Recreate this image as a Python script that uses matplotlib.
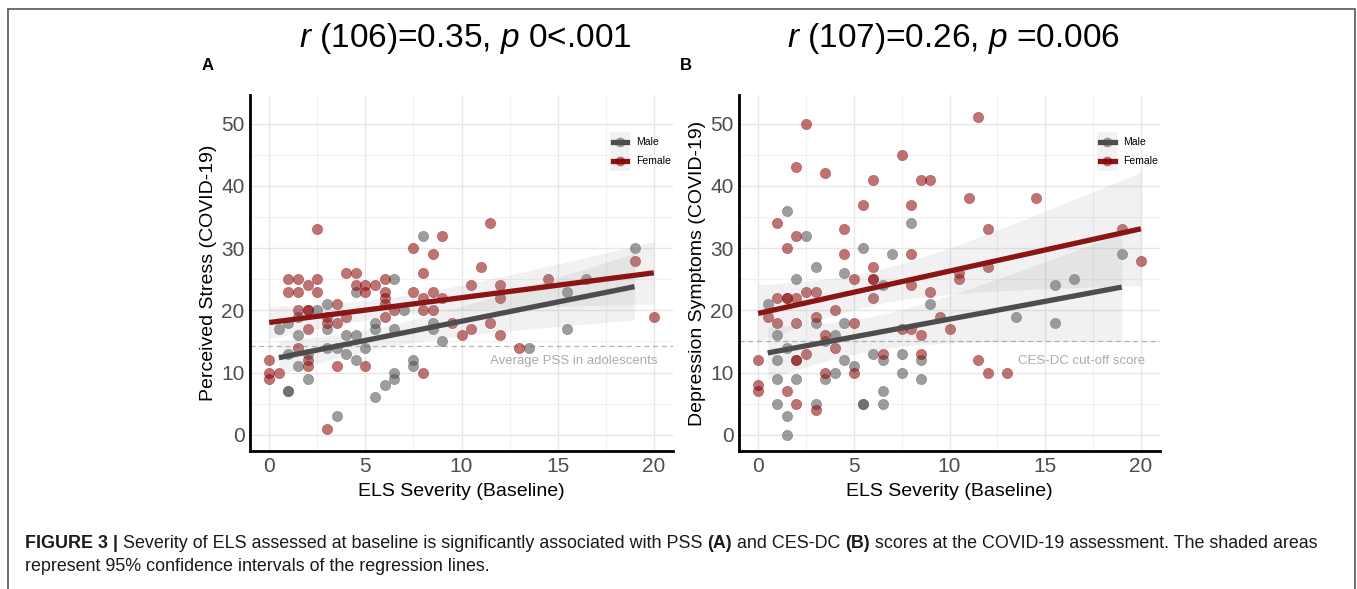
import numpy as np
import matplotlib
matplotlib.use("Agg")
import matplotlib.pyplot as plt
from matplotlib.patches import Rectangle
from matplotlib.lines import Line2D

plt.rcParams['font.family'] = ['Liberation Sans', 'DejaVu Sans']
plt.rcParams['mathtext.fontset'] = 'custom'
plt.rcParams['mathtext.rm'] = 'Liberation Sans'
plt.rcParams['mathtext.it'] = 'Liberation Sans:italic'

# ---------------- data ----------------
a_female_x = [2.5, 11.5, 9, 7.5, 8.5, 11, 19, 8, 4, 4.5, 1, 1.5, 2.5, 6, 14.5, 2, 4.5, 5, 5.5, 10.5, 12,
              1, 1.5, 2.5, 5, 6, 7.5, 8.5, 6, 8, 9, 12, 6, 3.5, 1.5, 2, 2, 3, 8, 8.5, 6.5, 6, 4, 3, 3.5,
              9.5, 11.5, 2, 10.5, 10, 12, 1.5, 2, 2, 13, 0, 0, 0, 0.5, 3.5, 5, 8, 3, 20]
a_female_y = [33, 34, 32, 30, 29, 27, 28, 26, 26, 26, 25, 25, 25, 25, 25, 24, 24, 24, 24, 24, 24,
              23, 23, 23, 23, 23, 23, 23, 22, 22, 22, 22, 21, 21, 20, 20, 20, 19, 20, 20, 20, 19, 19, 18, 18,
              18, 18, 17, 17, 16, 16, 14, 12, 11, 14, 12, 10, 9, 10, 11, 11, 10, 1, 19]
a_male_x = [8, 19, 6.5, 4.5, 16.5, 15.5, 3, 2.5, 7, 1.5, 1, 0.5, 3, 5.5, 5.5, 6.5, 8.5, 8.5, 1.5, 4, 4.5,
            9, 15.5, 3, 3.5, 5, 13.5, 1, 2, 4, 4.5, 7.5, 7.5, 1.5, 2, 6.5, 6.5, 6, 5.5, 1, 1, 3.5]
a_male_y = [32, 30, 25, 23, 25, 23, 21, 20, 20, 19, 18, 17, 17, 18, 17, 17, 18, 17, 16, 16, 16,
            15, 17, 14, 14, 14, 14, 13, 13, 13, 12, 12, 11, 11, 9, 10, 9, 8, 6, 7, 7, 3]

b_female_x = [2.5, 11.5, 7.5, 2, 3.5, 6, 8.5, 9, 5.5, 8, 11, 14.5, 1, 4.5, 12, 19, 2, 1.5, 4.5, 8, 20,
              6, 12, 10.5, 10.5, 5, 6, 6, 8, 2.5, 3, 9, 1, 1.5, 1.5, 2, 6, 4, 0.5, 3, 9.5, 1, 2, 5,
              10, 7.5, 8, 8.5, 3.5, 4, 2.5, 6.5, 8.5, 0, 2, 2, 11.5, 3.5, 5, 12, 13, 0, 0, 1.5, 2, 3]
b_female_y = [50, 51, 45, 43, 42, 41, 41, 41, 37, 37, 38, 38, 34, 33, 33, 33, 32, 30, 29, 29, 28,
              27, 27, 26, 25, 25, 25, 25, 24, 23, 23, 23, 22, 22, 22, 22, 22, 20, 19, 19, 19, 18, 18, 18,
              17, 17, 17, 16, 16, 14, 13, 13, 13, 12, 12, 12, 12, 10, 10, 10, 10, 8, 7, 7, 5, 4]
b_male_x = [1.5, 8, 2.5, 5.5, 7, 3, 4.5, 2, 19, 16.5, 15.5, 6.5, 0.5, 9, 3, 4.5, 13.5, 15.5, 1, 4, 3.5,
            1.5, 1, 4.5, 6, 6.5, 7.5, 8.5, 5, 4, 7.5, 1, 2, 3.5, 8.5, 6.5, 1, 3, 5.5, 5.5, 6.5, 1.5, 1.5]
b_male_y = [36, 34, 32, 30, 29, 27, 26, 25, 29, 25, 24, 24, 21, 21, 18, 18, 19, 18, 16, 16, 15,
            14, 12, 12, 13, 12, 13, 12, 11, 10, 10, 9, 9, 9, 9, 7, 5, 5, 5, 5, 5, 3, 0]

titles = [r"$\it{r}$ (106)=0.35, $\it{p}$ 0<.001", r"$\it{r}$ (107)=0.26, $\it{p}$ =0.006"]
panel_labels = ["A", "B"]
y_labels = ["Perceived Stress (COVID-19)", "Depression Symptoms (COVID-19)"]
x_label = "ELS Severity (Baseline)"
ref_values = [14.2, 15.0]
ref_labels = ["Average PSS in adolescents", "CES-DC cut-off score"]
legend_labels = ["Male", "Female"]
x_ticks = [0, 5, 10, 15, 20]
y_ticks = [0, 10, 20, 30, 40, 50]

male_pt = "#4d4d4d"
female_pt = "#8b0000"
male_line = "#4d4d4d"
female_line = "#8b1414"

# ---------------- figure ----------------
fig = plt.figure(figsize=(13.57, 5.89), dpi=100)
fig.patches.append(Rectangle((8 / 1357, -0.05), (1355 - 8) / 1357, 1 - 8.5 / 589 + 0.05,
                             transform=fig.transFigure, fill=False, edgecolor="#555555",
                             linewidth=1.2, zorder=0))

ax_pos = [(250, 673), (739, 1160)]
top_px, bot_px = 95, 451


def fit_band(x, y, t=2.005):
    x = np.asarray(x, float)
    y = np.asarray(y, float)
    n = len(x)
    b, a = np.polyfit(x, y, 1)
    xs = np.linspace(x.min(), x.max(), 100)
    yhat = a + b * xs
    resid = y - (a + b * x)
    s = np.sqrt(np.sum(resid ** 2) / (n - 2))
    se = s * np.sqrt(1 / n + (xs - x.mean()) ** 2 / np.sum((x - x.mean()) ** 2))
    return xs, yhat, yhat - t * se, yhat + t * se


data = [((a_male_x, a_male_y), (a_female_x, a_female_y)),
        ((b_male_x, b_male_y), (b_female_x, b_female_y))]

for i, (l, r) in enumerate(ax_pos):
    ax = fig.add_axes([l / 1357, 1 - bot_px / 589, (r - l) / 1357, (bot_px - top_px) / 589])
    ax.set_xlim(-1, 21)
    ax.set_ylim(-2.6, 54.6)
    ax.set_xticks(x_ticks)
    ax.set_yticks(y_ticks)
    ax.set_xticks([2.5, 7.5, 12.5, 17.5], minor=True)
    ax.set_yticks([5, 15, 25, 35, 45], minor=True)
    ax.grid(True, which='major', color="#e6e6e6", linewidth=1.0)
    ax.grid(True, which='minor', color="#f0f0f0", linewidth=0.8)
    ax.set_axisbelow(True)
    for s in ['top', 'right']:
        ax.spines[s].set_visible(False)
    for s in ['left', 'bottom']:
        ax.spines[s].set_linewidth(2.0)
        ax.spines[s].set_color("black")
    ax.tick_params(which='both', length=0, labelsize=15, labelcolor="#4d4d4d", pad=4)
    ax.set_xlabel(x_label, fontsize=14, labelpad=5)
    ax.set_ylabel(y_labels[i], fontsize=14, labelpad=3)

    (mx, my), (fx, fy) = data[i]
    ax.axhline(ref_values[i], color="#b3b3b3", linestyle=(0, (4, 3)), linewidth=0.9, zorder=1)
    ax.text(20.2, 11.9, ref_labels[i], ha='right', va='center', fontsize=9.5, color="#ababab", zorder=2)

    ax.scatter(mx, my, s=55, color=male_pt, alpha=0.55, edgecolors=male_pt, linewidths=0.4, zorder=3)
    ax.scatter(fx, fy, s=55, color=female_pt, alpha=0.55, edgecolors=female_pt, linewidths=0.4, zorder=3)

    for (xx, yy), col in [((mx, my), male_line), ((fx, fy), female_line)]:
        xs, yh, lo, hi = fit_band(xx, yy)
        ax.fill_between(xs, lo, hi, color="#8c8c8c", alpha=0.12, linewidth=0, zorder=4)
        ax.plot(xs, yh, color=col, linewidth=3.8, solid_capstyle='butt', zorder=5)

    # legend (ggplot style)
    ax.add_patch(Rectangle((0.851, 0.787), 0.047, 0.109, transform=ax.transAxes,
                           facecolor="#f2f2f2", edgecolor='none', zorder=6))
    for yk, lab, lc, pc in [(0.868, legend_labels[0], male_line, male_pt),
                            (0.815, legend_labels[1], female_line, female_pt)]:
        ax.add_line(Line2D([0.857, 0.892], [yk, yk], transform=ax.transAxes, color=lc,
                           linewidth=3.8, zorder=7))
        ax.add_line(Line2D([0.8745], [yk], transform=ax.transAxes, marker='o', markersize=7,
                           color=pc, alpha=0.55, markeredgewidth=0, zorder=8))
        ax.text(0.912, yk, lab, transform=ax.transAxes, fontsize=7.5, va='center', ha='left', zorder=8)

    # title and panel label
    cx = (l + r) / 2 / 1357
    fig.text(cx + 4 / 1357, 1 - 38 / 589, titles[i], ha='center', va='center', fontsize=24)
    fig.text([208, 686][i] / 1357, 1 - 66 / 589, panel_labels[i], ha='center', va='center',
             fontsize=12, fontweight='bold')

# caption
cap_size = 12.9
pieces = [("FIGURE 3 |", 'bold'),
          (" Severity of ELS assessed at baseline is significantly associated with PSS ", 'normal'),
          ("(A)", 'bold'), (" and CES-DC ", 'normal'), ("(B)", 'bold'),
          (" scores at the COVID-19 assessment. The shaded areas", 'normal')]
captions = [fig.text(0, 0, txt, fontsize=cap_size, fontweight=w, va='baseline', ha='left',
                     color="#1a1a1a") for txt, w in pieces]
fig.canvas.draw()
r_ = fig.canvas.get_renderer()
x_cur = 25
for t in captions:
    t.set_position((x_cur / fig.bbox.width, 1 - 548 / 589))
    fig.canvas.draw()
    x_cur = t.get_window_extent(r_).x1
fig.text(25 / 1357, 1 - 571 / 589, "represent 95% confidence intervals of the regression lines.",
         fontsize=cap_size, va='baseline', ha='left', color="#1a1a1a")

fig.savefig("out.png", dpi=100)
